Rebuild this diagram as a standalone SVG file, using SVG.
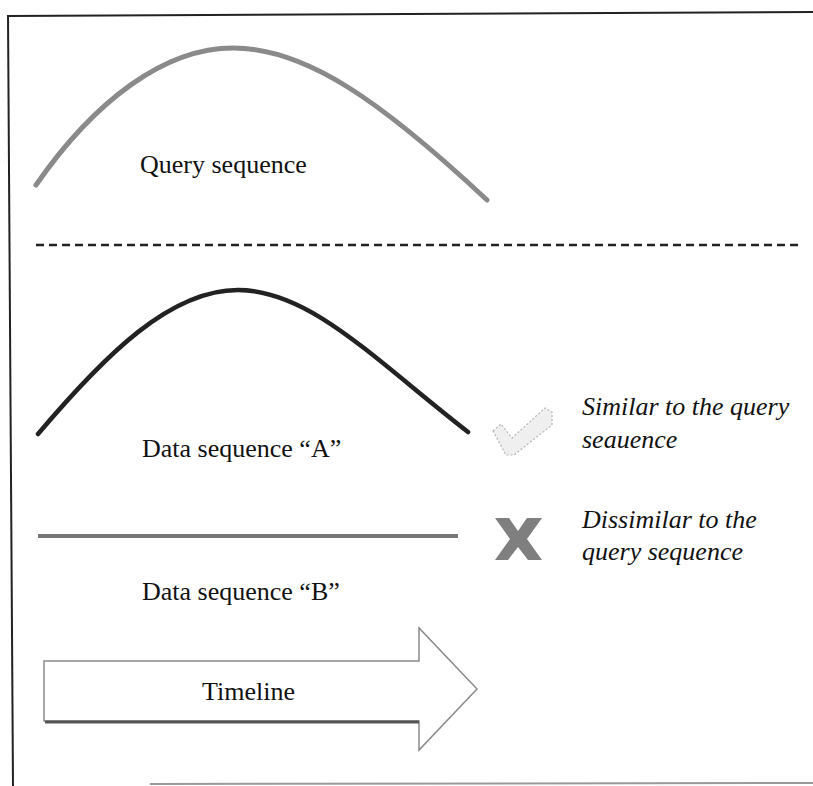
<svg xmlns="http://www.w3.org/2000/svg" width="813" height="786" viewBox="0 0 813 786">
  <style>
    .lbl { font-family: "Liberation Serif", "Times New Roman", serif; font-size: 26px; fill: #111; }
    .ital { font-family: "Liberation Serif", "Times New Roman", serif; font-size: 26px; font-style: italic; fill: #111; }
    .frame { stroke: #222; stroke-width: 2; fill: none; }
  </style>
  <rect width="813" height="786" fill="#ffffff"/>
  <g id="frame">
    <line class="frame" x1="8" y1="16" x2="813" y2="12"/>
    <line class="frame" x1="8" y1="15" x2="13" y2="786"/>
    <line x1="150" y1="784" x2="813" y2="783" stroke="#999" stroke-width="2"/>
  </g>
  <g id="query">
    <path d="M36,185 C95,100 165,48 233,48 C305,48 380,100 487,200" fill="none" stroke="#8a8a8a" stroke-width="5" stroke-linecap="round"/>
    <text class="lbl" x="140" y="173">Query sequence</text>
  </g>
  <g id="separator">
    <line x1="36" y1="245" x2="800" y2="245" stroke="#222" stroke-width="2.5" stroke-dasharray="8,5"/>
  </g>
  <g id="seqA">
    <path d="M38,434 C105,355 170,290 238,290 C310,290 375,360 468,432" fill="none" stroke="#222" stroke-width="4.5" stroke-linecap="round"/>
    <text class="lbl" x="142" y="457">Data sequence “A”</text>
  </g>
  <g id="similar">
    <path d="M493,431 L501,424 L512,438 L545,408 L552,412 L552,425 L514,455 L506,455 Z" fill="#efefef" stroke="#b5b5b5" stroke-width="1.2" stroke-dasharray="2,2"/>
    <text class="ital" x="582" y="415">Similar to the query</text>
    <text class="ital" x="582" y="448">seauence</text>
  </g>
  <g id="seqB">
    <line x1="38" y1="536" x2="458" y2="536" stroke="#777" stroke-width="4"/>
    <text class="lbl" x="142" y="600">Data sequence “B”</text>
  </g>
  <g id="dissimilar">
    <path d="M495,518 L509,518 L518,531 L527,518 L542,518 L527,539 L542,560 L528,560 L518,547 L508,560 L495,560 L510,539 Z" fill="#7f7f7f"/>
    <text class="ital" x="582" y="528">Dissimilar to the</text>
    <text class="ital" x="582" y="560">query sequence</text>
  </g>
  <g id="timeline">
    <path d="M44,661 L419,661 L419,628 L477,689 L419,750 L419,721 L44,721 Z" fill="#ffffff" stroke="#8a8a8a" stroke-width="1.5"/>
    <line x1="45" y1="722" x2="419" y2="722" stroke="#555" stroke-width="3"/>
    <text class="lbl" x="202" y="700">Timeline</text>
  </g>
</svg>
